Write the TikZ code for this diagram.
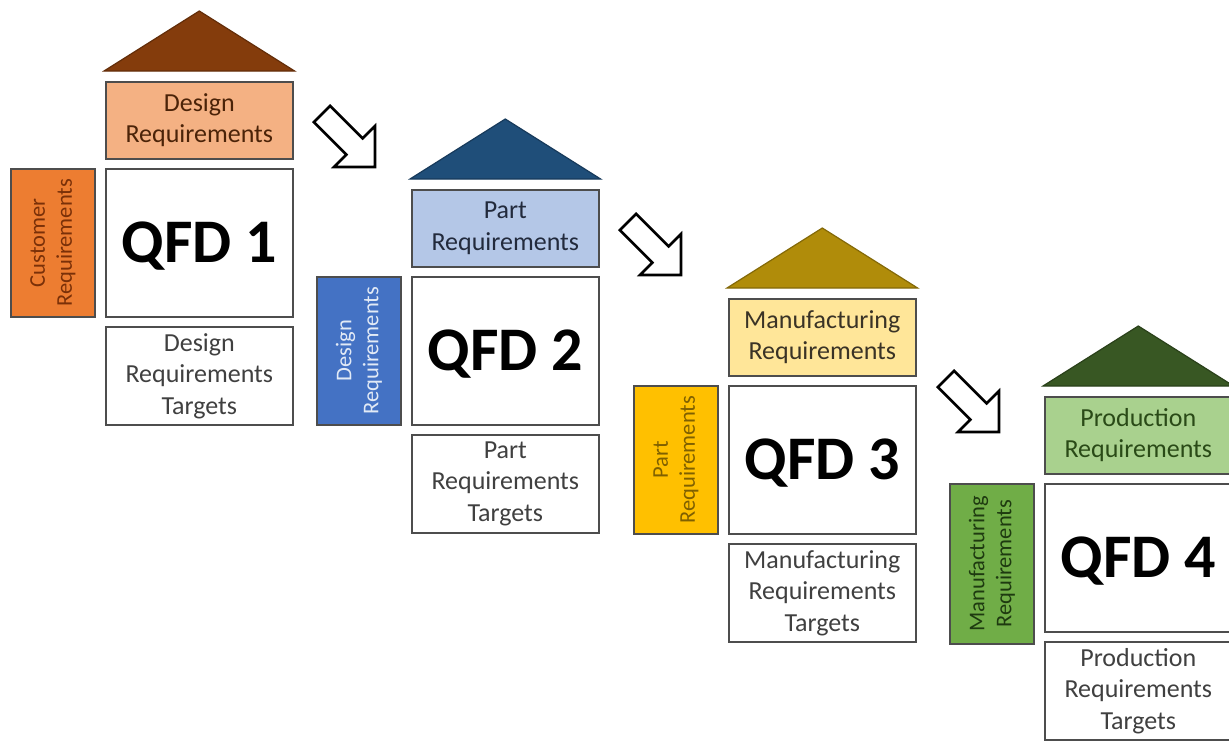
\documentclass[tikz,border=0pt]{standalone}
\usepackage{fontspec}
\setmainfont{Carlito}

% palette
\definecolor{boxline}{HTML}{4D4D4D}
\definecolor{txtgray}{HTML}{404040}
\definecolor{roofA}{HTML}{843C0C}
\definecolor{topA}{HTML}{F4B183}
\definecolor{topAtxt}{HTML}{4B2308}
\definecolor{sideA}{HTML}{ED7D31}
\definecolor{sideAtxt}{HTML}{7A3008}
\definecolor{roofB}{HTML}{1F4E79}
\definecolor{topB}{HTML}{B4C7E7}
\definecolor{topBtxt}{HTML}{222A3C}
\definecolor{sideB}{HTML}{4472C4}
\definecolor{sideBtxt}{HTML}{E2EAF6}
\definecolor{roofC}{HTML}{B08C0A}
\definecolor{topC}{HTML}{FFE699}
\definecolor{topCtxt}{HTML}{3A3326}
\definecolor{sideC}{HTML}{FFC000}
\definecolor{sideCtxt}{HTML}{7F6000}
\definecolor{roofD}{HTML}{385723}
\definecolor{topD}{HTML}{A9D18E}
\definecolor{topDtxt}{HTML}{2A4A17}
\definecolor{sideD}{HTML}{70AD47}
\definecolor{sideDtxt}{HTML}{1E3A10}

\tikzset{
  box/.style={draw=boxline, line width=1.6pt, minimum width=187pt, inner sep=0pt,
    align=center, anchor=north west, font=\fontsize{26}{31.5}\selectfont},
  topbox/.style={box, minimum height=77pt},
  qfdbox/.style={box, fill=white, minimum height=148pt, text=black,
    font=\fontsize{62}{62}\selectfont\bfseries, text height=40pt, text depth=0pt},
  targetbox/.style={box, fill=white, minimum height=98pt, text=txtgray},
  sidebox/.style={draw=boxline, line width=1.6pt, rotate=90, minimum width=148pt,
    minimum height=84pt, inner sep=0pt, align=center, anchor=center,
    font=\fontsize{22.5}{27}\selectfont},
  roof/.style={line width=1.2pt, line join=miter},
  blockarrow/.style={draw=black, line width=2.6pt, fill=white, line join=miter}
}

\begin{document}
\begin{tikzpicture}[x=1pt, y=-1pt]
\useasboundingbox (0,0) rectangle (1229,740);

% ---- QFD 1 ----
\node[topbox, fill=topA, text=topAtxt] (t1) at (105,81) {Design\\Requirements};
\node[qfdbox] (m1) at (105,168) {QFD 1};
\node[targetbox] (b1) at (105,326) {Design\\Requirements\\Targets};
\node[sidebox, fill=sideA, text=sideAtxt] (s1) at ([shift={(-52,0)}]m1.west) {Customer\\Requirements};
\draw[roof, fill=roofA, draw=roofA!75!black] ([shift={(-1,-10)}]t1.north west)
  -- ([shift={(0,-70)}]t1.north) -- ([shift={(1,-10)}]t1.north east) -- cycle;

% ---- QFD 2 ----
\node[topbox, fill=topB, text=topBtxt] (t2) at (411,189) {Part\\Requirements};
\node[qfdbox] (m2) at (411,276) {QFD 2};
\node[targetbox] (b2) at (411,434) {Part\\Requirements\\Targets};
\node[sidebox, fill=sideB, text=sideBtxt] (s2) at ([shift={(-52,0)}]m2.west) {Design\\Requirements};
\draw[roof, fill=roofB, draw=roofB!75!black] ([shift={(-1,-10)}]t2.north west)
  -- ([shift={(0,-70)}]t2.north) -- ([shift={(1,-10)}]t2.north east) -- cycle;

% ---- QFD 3 ----
\node[topbox, fill=topC, text=topCtxt] (t3) at (728,298) {Manufacturing\\Requirements};
\node[qfdbox] (m3) at (728,385) {QFD 3};
\node[targetbox] (b3) at (728,543) {Manufacturing\\Requirements\\Targets};
\node[sidebox, fill=sideC, text=sideCtxt] (s3) at ([shift={(-52,0)}]m3.west) {Part\\Requirements};
\draw[roof, fill=roofC, draw=roofC!75!black] ([shift={(-1,-10)}]t3.north west)
  -- ([shift={(0,-70)}]t3.north) -- ([shift={(1,-10)}]t3.north east) -- cycle;

% ---- QFD 4 ----
\node[topbox, fill=topD, text=topDtxt] (t4) at (1044,396) {Production\\Requirements};
\node[qfdbox] (m4) at (1044,483) {QFD 4};
\node[targetbox] (b4) at (1044,641) {Production\\Requirements\\Targets};
\node[sidebox, fill=sideD, text=sideDtxt, minimum width=160pt] (s4) at ([shift={(-52,6)}]m4.west) {Manufacturing\\Requirements};
\draw[roof, fill=roofD, draw=roofD!75!black] ([shift={(-1,-10)}]t4.north west)
  -- ([shift={(0,-70)}]t4.north) -- ([shift={(1,-10)}]t4.north east) -- cycle;

% ---- hollow block arrows between the stages ----
\foreach \ax/\ay in {322/114, 628/222, 946/379} {
  \draw[blockarrow, shift={(\ax,\ay)}, rotate=-45]
    (0,11.5) -- (46,11.5) -- (46,29) -- (75,0) -- (46,-29) -- (46,-11.5) -- (0,-11.5) -- cycle;
}
\end{tikzpicture}
\end{document}
